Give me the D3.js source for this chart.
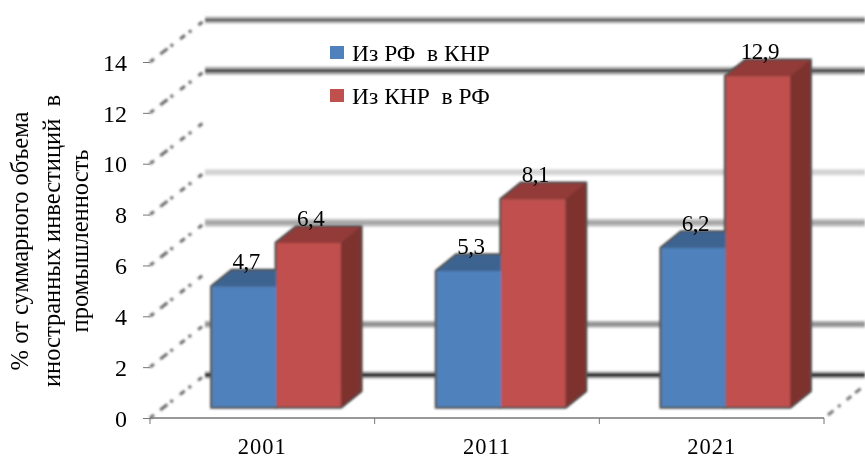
<!DOCTYPE html>
<html>
<head>
<meta charset="utf-8">
<script src="https://d3js.org/d3.v7.min.js"></script>
<style>
  html, body { margin: 0; padding: 0; background: #fff; }
  svg { display: block; }
  text { font-family: "Liberation Serif", "Times New Roman", serif; fill: #000; }
</style>
</head>
<body>
<div id="chart"></div>
<script>
const categories = ["2001", "2011", "2021"];
const fromRussia = [4.7, 5.3, 6.2];
const fromChina = [6.4, 8.1, 12.9];
const fromRussiaLabels = ["4,7", "5,3", "6,2"];
const fromChinaLabels = ["6,4", "8,1", "12,9"];
const legendNames = ["Из РФ  в КНР", "Из КНР  в РФ"];
const yTicks = [0, 2, 4, 6, 8, 10, 12, 14];
const titleLines = ["% от суммарного объема", "иностранных инвестиций  в", "промышленность"];

const width = 865, height = 459;
const blue = "#4f81bd", blueTop = "#3d6391", red = "#c0504d", redTop = "#933a38", redSide = "#7e302e";

const svg = d3.select("#chart").append("svg")
  .attr("width", width)
  .attr("height", height)
  .attr("viewBox", "0 0 " + width + " " + height);

// Soft look of the scanned picture
const defs = svg.append("defs");
defs.append("filter").attr("id", "soft").append("feGaussianBlur").attr("stdDeviation", 0.8);
defs.append("filter").attr("id", "softer").append("feGaussianBlur").attr("stdDeviation", 1.3);
defs.append("filter").attr("id", "softText").append("feGaussianBlur").attr("stdDeviation", 0.3);

// Scales: front plane, back wall, and the plane the bars stand on
const yFront = d3.scaleLinear().domain([0, 14]).range([418, 62]);
const yBack = d3.scaleLinear().domain([0, 14]).range([375, 20]);
const yBar = d3.scaleLinear().domain([0, 14]).range([407, 48]);
const x = d3.scaleBand().domain(categories).range([150, 824]);
const backDx = 55, barDx = 14, depthDx = 20, depthDy = -16, barWidth = 64.5;

// Back wall lines, each one has its own weight in the picture
const wallStyles = {
  0: {outer: "#aaa", outerW: 7, inner: "#000", innerW: 3},
  2: {outer: "#bbb", outerW: 7, inner: "#8f8f8f", innerW: 3.5},
  6: {outer: "#c4c4c4", outerW: 8, inner: "#a0a0a0", innerW: 3},
  8: {outer: "#e2e2e2", outerW: 7, inner: "#cfcfcf", innerW: 3},
  12: {outer: "#b0b0b0", outerW: 8, inner: "#3a3a3a", innerW: 3},
  14: {outer: "#c0c0c0", outerW: 7, inner: "#5a5a5a", innerW: 3}
};

const wall = svg.append("g").attr("filter", "url(#soft)");
for (let t of yTicks) {
  let st = wallStyles[t];
  if (!st) continue;
  wall.append("line")
    .attr("x1", 150 + backDx).attr("x2", width)
    .attr("y1", yBack(t)).attr("y2", yBack(t))
    .attr("stroke", st.outer).attr("stroke-width", st.outerW);
  wall.append("line")
    .attr("x1", 150 + backDx).attr("x2", width)
    .attr("y1", yBack(t)).attr("y2", yBack(t))
    .attr("stroke", st.inner).attr("stroke-width", st.innerW);
}

// Dotted side wall lines
const side = svg.append("g").attr("filter", "url(#softer)");
for (let t of yTicks) {
  side.append("line")
    .attr("x1", 150).attr("y1", yFront(t))
    .attr("x2", 150 + backDx).attr("y2", yBack(t))
    .attr("stroke", "#444").attr("stroke-width", 3)
    .attr("stroke-dasharray", "5 8 9 4 3 9 6 5 3 9")
    .attr("stroke-opacity", 0.8);
}
side.append("line")
  .attr("x1", x.range()[0] + 678).attr("y1", yFront(0) - 3)
  .attr("x2", width).attr("y2", yBack(0) + 10)
  .attr("stroke", "#555").attr("stroke-width", 3)
  .attr("stroke-dasharray", "7 6 3 8 6 5")
  .attr("stroke-opacity", 0.8);

// Floor edge
svg.append("line")
  .attr("x1", x.range()[0]).attr("x2", x.range()[1])
  .attr("y1", yFront(0)).attr("y2", yFront(0))
  .attr("stroke", "#a0a0a0").attr("stroke-width", 5)
  .attr("filter", "url(#soft)");
svg.append("line")
  .attr("x1", x.range()[0]).attr("x2", x.range()[1])
  .attr("y1", yFront(0)).attr("y2", yFront(0))
  .attr("stroke", "#777").attr("stroke-width", 1.5);

// Axes
const yAxis = svg.append("g")
  .attr("transform", "translate(150,0)")
  .call(d3.axisLeft(yFront).tickValues(yTicks).tickSize(7));
yAxis.select(".domain").remove();
yAxis.selectAll("line").attr("stroke", "#777");
yAxis.selectAll("text")
  .attr("font-size", 24).attr("font-family", null)
  .attr("dy", "0.34em").attr("x", -23)
  .attr("filter", "url(#softText)");

const xAxis = svg.append("g")
  .attr("transform", "translate(0," + yFront(0) + ")")
  .call(d3.axisBottom(x).tickSize(0));
xAxis.select(".domain").remove();
xAxis.selectAll("text")
  .attr("font-size", 22.5).attr("font-family", null)
  .attr("letter-spacing", 1)
  .attr("y", 36).attr("dy", 0)
  .attr("filter", "url(#softText)");

const boundaries = x.domain().map(c => x(c)).concat([x.range()[1]]);
svg.selectAll(".x-tick").data(boundaries).join("line")
  .attr("class", "x-tick")
  .attr("x1", d => d).attr("x2", d => d)
  .attr("y1", yFront(0)).attr("y2", yFront(0) + 6)
  .attr("stroke", "#777");

// Bars
const inner = d3.scaleBand().domain(["ru", "cn"]).range([-barWidth, barWidth]);
const series = [
  {key: "ru", values: fromRussia, labels: fromRussiaLabels, front: blue, top: blueTop, side: blueTop},
  {key: "cn", values: fromChina, labels: fromChinaLabels, front: red, top: redTop, side: redSide}
];

function barX(key, cat) {
  return x(cat) + x.bandwidth() / 2 + barDx + inner(key);
}

// Dark halo behind each bar pair
const halo = svg.append("g").attr("filter", "url(#softer)");
for (let s of series) {
  categories.forEach((c, i) => {
    let x0 = barX(s.key, c), y0 = yBar(s.values[i]), y1 = yBar(0), w = inner.bandwidth();
    halo.append("path")
      .attr("d", "M" + x0 + "," + y1 + "L" + x0 + "," + y0
        + "L" + (x0 + depthDx) + "," + (y0 + depthDy)
        + "L" + (x0 + w + depthDx) + "," + (y0 + depthDy)
        + "L" + (x0 + w + depthDx) + "," + (y1 + depthDy)
        + "L" + (x0 + w) + "," + y1 + "Z")
      .attr("fill", "#555").attr("stroke", "#555").attr("stroke-width", 3.5);
  });
}

const bars = svg.append("g").attr("filter", "url(#soft)");
for (let s of series) {
  categories.forEach((c, i) => {
    let x0 = barX(s.key, c), y0 = yBar(s.values[i]), y1 = yBar(0), w = inner.bandwidth();
    bars.append("path")
      .attr("d", "M" + x0 + "," + y0
        + "L" + (x0 + depthDx) + "," + (y0 + depthDy)
        + "L" + (x0 + w + depthDx) + "," + (y0 + depthDy)
        + "L" + (x0 + w) + "," + y0 + "Z")
      .attr("fill", s.top);
    bars.append("path")
      .attr("d", "M" + (x0 + w) + "," + y0
        + "L" + (x0 + w + depthDx) + "," + (y0 + depthDy)
        + "L" + (x0 + w + depthDx) + "," + (y1 + depthDy)
        + "L" + (x0 + w) + "," + y1 + "Z")
      .attr("fill", s.side);
  });
}
for (let s of series) {
  categories.forEach((c, i) => {
    bars.append("rect")
      .attr("x", barX(s.key, c))
      .attr("y", yBar(s.values[i]))
      .attr("width", inner.bandwidth())
      .attr("height", yBar(0) - yBar(s.values[i]))
      .attr("fill", s.front);
  });
}

// Value labels
const labels = svg.append("g").attr("filter", "url(#softText)");
for (let s of series) {
  categories.forEach((c, i) => {
    labels.append("text")
      .attr("x", barX(s.key, c) + inner.bandwidth() / 2 + 2)
      .attr("y", yBar(s.values[i]) - 17)
      .attr("text-anchor", "middle")
      .attr("font-size", 23)
      .attr("letter-spacing", -0.5)
      .text(s.labels[i]);
  });
}

// Legend
const legend = svg.append("g");
legendNames.forEach((name, i) => {
  let ly = 52 + i * 43;
  legend.append("rect")
    .attr("x", 330).attr("y", ly - 6)
    .attr("width", 14).attr("height", 13)
    .attr("fill", i == 0 ? blue : red);
  legend.append("text")
    .attr("x", 352).attr("y", ly + 9)
    .attr("font-size", 23.5)
    .attr("filter", "url(#softText)")
    .style("white-space", "pre")
    .text(name);
});

// Axis title
const title = svg.append("g");
const titleX = [28, 60, 88];
titleLines.forEach((line, i) => {
  title.append("text")
    .attr("transform", "translate(" + titleX[i] + ",241) rotate(-90)")
    .attr("text-anchor", "middle")
    .attr("font-size", 24.5)
    .attr("filter", "url(#softText)")
    .style("white-space", "pre")
    .text(line);
});
</script>
</body>
</html>
